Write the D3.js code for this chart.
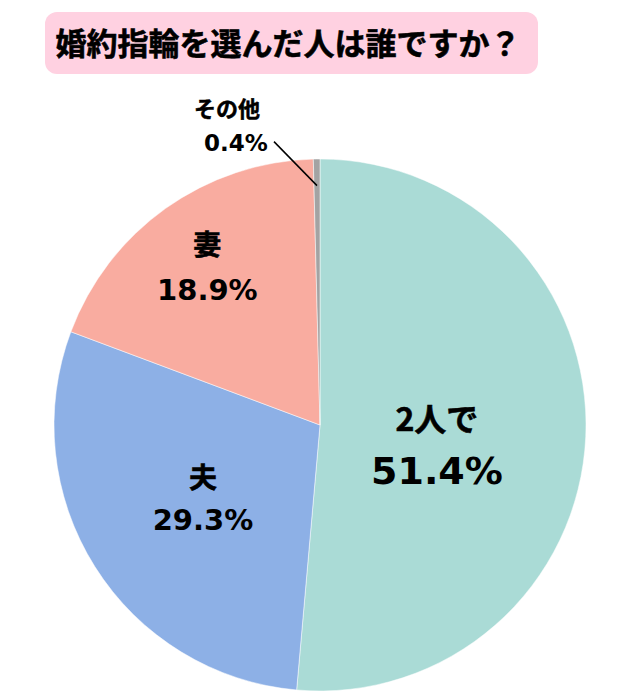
<!DOCTYPE html>
<html>
<head>
<meta charset="utf-8">
<script src="https://cdn.jsdelivr.net/npm/d3@7"></script>
<style>
  body { margin: 0; background: #fff; }
  svg { display: block; }
</style>
</head>
<body>
<svg></svg>
<script>
const title = "婚約指輪を選んだ人は誰ですか？";
const categories = ["2人で", "夫", "妻", "その他"];
const values = [51.4, 29.3, 18.9, 0.4];
const colors = ["#aadbd6", "#8db0e6", "#f9aca0", "#a3a3a3"];

const width = 640, height = 700;
const svg = d3.select("svg").attr("width", width).attr("height", height);
const font = "'Noto Sans CJK JP', 'Noto Sans', sans-serif";
const numFont = "'DejaVu Sans', 'Liberation Sans', sans-serif";

// title box
svg.append("rect")
    .attr("x", 45).attr("y", 12)
    .attr("width", 493).attr("height", 62)
    .attr("rx", 12)
    .attr("fill", "#ffd1e1");
svg.append("text")
    .attr("x", 288).attr("y", 55)
    .attr("text-anchor", "middle")
    .style("font-family", font)
    .style("font-weight", "bold")
    .style("font-size", "31px")
    .attr("fill", "#000")
    .attr("stroke", "#000")
    .attr("stroke-width", 0.6)
    .text(title);

const cx = 320, cy = 425, r = 266;
const g = svg.append("g").attr("transform", `translate(${cx},${cy})`);

const data = categories.map((c, i) => ({ name: c, value: values[i], color: colors[i] }));
const pie = d3.pie().sort(null).value(d => d.value);
const arcs = pie(data);
const arc = d3.arc().innerRadius(0).outerRadius(r);

g.selectAll("path")
    .data(arcs)
    .enter()
    .append("path")
    .attr("d", arc)
    .attr("fill", d => d.data.color)
    .attr("stroke", "#fff")
    .attr("stroke-width", 0.5);

// label placement: radius along slice mid angle + font sizes
const labelR = [0.44, 0.52, 0.73];
const nameSize = [32, 28, 28];
const valSize = [38, 29, 29];
const lineGap = [50, 42, 44];

arcs.slice(0, 3).forEach((d, i) => {
    const a = (d.startAngle + d.endAngle) / 2;
    const lr = r * labelR[i];
    const x = Math.sin(a) * lr;
    const y = -Math.cos(a) * lr + (i === 0 ? 15 : 0);
    const t = g.append("g").attr("transform", `translate(${x},${y})`);
    t.append("text")
        .attr("text-anchor", "middle")
        .attr("y", -lineGap[i] / 2 + nameSize[i] * 0.35)
        .style("font-family", font)
        .style("font-weight", "bold")
        .style("font-size", nameSize[i] + "px")
        .attr("fill", "#000")
        .attr("stroke", "#000")
        .attr("stroke-width", 0.6)
        .text(d.data.name);
    t.append("text")
        .attr("text-anchor", "middle")
        .attr("y", lineGap[i] / 2 + valSize[i] * 0.37)
        .style("font-family", numFont)
        .style("font-weight", "bold")
        .style("font-size", valSize[i] + "px")
        .attr("fill", "#000")
        .text(d3.format(".1f")(d.data.value) + "%");
});

// small slice: outside label with leader line
const other = arcs[3];
const oa = (other.startAngle + other.endAngle) / 2;
const p1 = [Math.sin(oa) * r * 0.9, -Math.cos(oa) * r * 0.9];
const p2 = [p1[0] - 43, p1[1] - 44];
g.append("line")
    .attr("x1", p1[0]).attr("y1", p1[1])
    .attr("x2", p2[0]).attr("y2", p2[1])
    .attr("stroke", "#000")
    .attr("stroke-width", 1.5);
g.append("text")
    .attr("x", p2[0] - 47).attr("y", p2[1] - 25)
    .attr("text-anchor", "middle")
    .style("font-family", font)
    .style("font-weight", "bold")
    .style("font-size", "22px")
    .attr("fill", "#000")
    .attr("stroke", "#000")
    .attr("stroke-width", 0.5)
    .text(other.data.name);
g.append("text")
    .attr("x", p2[0] - 38).attr("y", p2[1] + 9)
    .attr("text-anchor", "middle")
    .style("font-family", numFont)
    .style("font-weight", "bold")
    .style("font-size", "23px")
    .attr("fill", "#000")
    .text(d3.format(".1f")(other.data.value) + "%");
</script>
</body>
</html>
